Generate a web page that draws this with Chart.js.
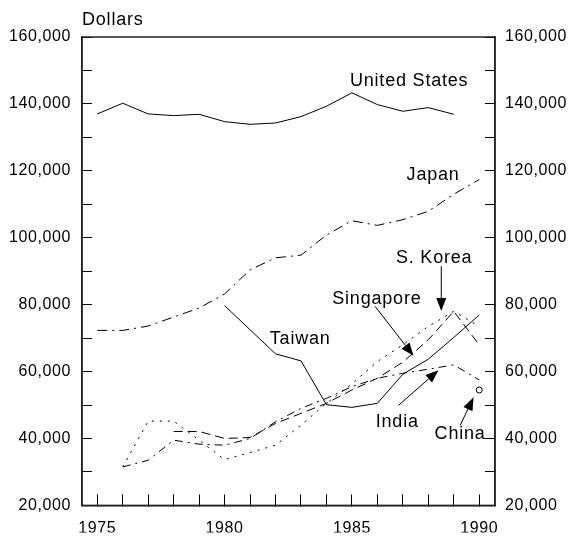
<!DOCTYPE html>
<html>
<head>
<meta charset="utf-8">
<script src="https://cdn.jsdelivr.net/npm/chart.js@4"></script>
<style>
  html, body { margin: 0; padding: 0; background: #fff; }
  canvas { display: block; }
</style>
</head>
<body>
<canvas id="canvas" width="577" height="536"></canvas>
<script>
// years on the x axis
const years = [1975, 1976, 1977, 1978, 1979, 1980, 1981, 1982, 1983, 1984, 1985, 1986, 1987, 1988, 1989, 1990];

// dollars
const unitedStates = [137000, 140200, 137000, 136500, 136900, 134700, 133900, 134300, 136200, 139300, 143300, 139800, 137800, 138900, 136900, null];
const japan        = [72300, 72300, 73600, 76300, 79000, 83200, 90400, 94000, 94800, 100800, 105100, 103700, 105400, 107900, 113000, 117400];
const taiwan       = [null, null, null, null, null, 79700, 72500, 65300, 63200, 50100, 49300, 50500, 59200, 63700, 70200, 76900];
const sKorea       = [null, 31500, 45200, 45200, 39500, 33700, 35800, 38000, 44000, 50500, 56300, 63000, 68000, 73500, 78000, 73500];
const singapore    = [null, null, null, 42100, 42100, 40000, 40300, 44500, 47500, 50500, 54500, 58000, 62800, 69500, 78000, 68000];
const india        = [null, 31500, 33500, 39500, 38300, 38000, 40000, 45000, 49000, 52000, 55500, 58000, 59500, 60700, 62000, 57500];
const china        = [null, null, null, null, null, null, null, null, null, null, null, null, null, null, null, 54500];

const yTicks = [20000, 40000, 60000, 80000, 100000, 120000, 140000, 160000];
const xTicks = [1975, 1980, 1985, 1990];

// labels and arrows, in data units
const notes = [
	{ text: 'United States', x: 1987.25, y: 145300 },
	{ text: 'Japan',         x: 1988.19, y: 117400 },
	{ text: 'S. Korea',      x: 1988.23, y: 92400 },
	{ text: 'Singapore',     x: 1985.98, y: 80200 },
	{ text: 'Taiwan',        x: 1982.97, y: 68100 },
	{ text: 'India',         x: 1986.78, y: 43400 },
	{ text: 'China',         x: 1989.25, y: 39800 }
];
const arrows = [
	{ x0: 1988.51, y0: 91500, x1: 1988.51, y1: 78100 },
	{ x0: 1985.91, y0: 79500, x1: 1987.42, y1: 64700 },
	{ x0: 1986.83, y0: 49900, x1: 1988.40, y1: 60400 },
	{ x0: 1989.25, y0: 43900, x1: 1989.78, y1: 52300 }
];

const FONT = '"Liberation Sans", Arial, sans-serif';

function pts(values) {
	return years.map((yr, i) => ({ x: yr, y: values[i] }));
}

function series(values, dash) {
	return {
		data: pts(values),
		borderColor: '#000',
		borderWidth: 1,
		borderDash: dash,
		pointRadius: 0,
		spanGaps: false,
		fill: false
	};
}

var datasets = [
	series(unitedStates, []),
	series(japan, [10, 5, 2, 5]),
	series(taiwan, []),
	series(sKorea, [2, 6]),
	series(singapore, [9, 5]),
	series(india, [8, 5, 2, 5]),
	{
		data: pts(china),
		showLine: false,
		pointRadius: 3,
		pointBorderWidth: 1,
		pointBorderColor: '#000',
		pointBackgroundColor: '#fff'
	}
];

function yLabel(v) {
	return yTicks.indexOf(v) >= 0 ? v.toLocaleString('en-US') : '';
}

function yScale(pos, pad) {
	return {
		type: 'linear',
		position: pos,
		min: 20000,
		max: 160000,
		afterFit: function (s) { s.width = 82; },
		border: { color: '#222', width: 1.5 },
		grid: { drawOnChartArea: false, tickLength: -10, color: '#000', lineWidth: 1 },
		ticks: {
			stepSize: 10000,
			padding: pad,
			color: '#000',
			font: { family: FONT, size: 16 },
			callback: yLabel
		}
	};
}

var annotate = {
	id: 'annotate',
	beforeDraw: function (chart) {
		chart.ctx.letterSpacing = '0.6px';
	},
	afterDraw: function (chart) {
		var ctx = chart.ctx, xs = chart.scales.x, ys = chart.scales.y, a = chart.chartArea;
		ctx.save();
		ctx.strokeStyle = '#222';
		ctx.lineWidth = 1.5;
		ctx.strokeRect(a.left, a.top, a.right - a.left, a.bottom - a.top);

		ctx.fillStyle = '#000';
		ctx.font = '18px ' + FONT;
		ctx.letterSpacing = '0.8px';
		ctx.textBaseline = 'alphabetic';
		ctx.textAlign = 'left';
		ctx.fillText('Dollars', a.left, a.top - 12);

		ctx.textAlign = 'center';
		notes.forEach(function (n) {
			ctx.fillText(n.text, xs.getPixelForValue(n.x), ys.getPixelForValue(n.y));
		});

		ctx.strokeStyle = '#000';
		ctx.lineWidth = 1;
		arrows.forEach(function (ar) {
			var px0 = xs.getPixelForValue(ar.x0), py0 = ys.getPixelForValue(ar.y0);
			var px1 = xs.getPixelForValue(ar.x1), py1 = ys.getPixelForValue(ar.y1);
			var ang = Math.atan2(py1 - py0, px1 - px0);
			var len = 13, hw = 5;
			var bx = px1 - len * Math.cos(ang), by = py1 - len * Math.sin(ang);
			ctx.beginPath();
			ctx.moveTo(px0, py0);
			ctx.lineTo(bx, by);
			ctx.stroke();
			ctx.beginPath();
			ctx.moveTo(px1, py1);
			ctx.lineTo(bx + hw * Math.sin(ang), by - hw * Math.cos(ang));
			ctx.lineTo(bx - hw * Math.sin(ang), by + hw * Math.cos(ang));
			ctx.closePath();
			ctx.fill();
		});
		ctx.restore();
	}
};

var ctx = document.getElementById('canvas').getContext('2d');
window.myLine = new Chart(ctx, {
	type: 'line',
	data: { datasets: datasets },
	options: {
		responsive: false,
		animation: false,
		layout: { padding: { top: 37, left: 0, right: 0, bottom: 0 } },
		plugins: { legend: { display: false }, tooltip: { enabled: false } },
		elements: { line: { tension: 0 } },
		scales: {
			x: {
				type: 'linear',
				min: 1974.4,
				max: 1990.62,
				afterFit: function (s) { s.height = 27; },
				border: { color: '#222', width: 1.5 },
				grid: { drawOnChartArea: false, tickLength: -11, color: '#000', lineWidth: 1 },
				ticks: {
					stepSize: 1,
					includeBounds: false,
					autoSkip: false,
					maxRotation: 0,
					padding: 25,
					color: '#000',
					font: { family: FONT, size: 16 },
					callback: function (v) { return xTicks.indexOf(v) >= 0 ? String(v) : ''; }
				}
			},
			y: yScale('left', 21),
			y2: yScale('right', 20)
		}
	},
	plugins: [annotate]
});
</script>
</body>
</html>
